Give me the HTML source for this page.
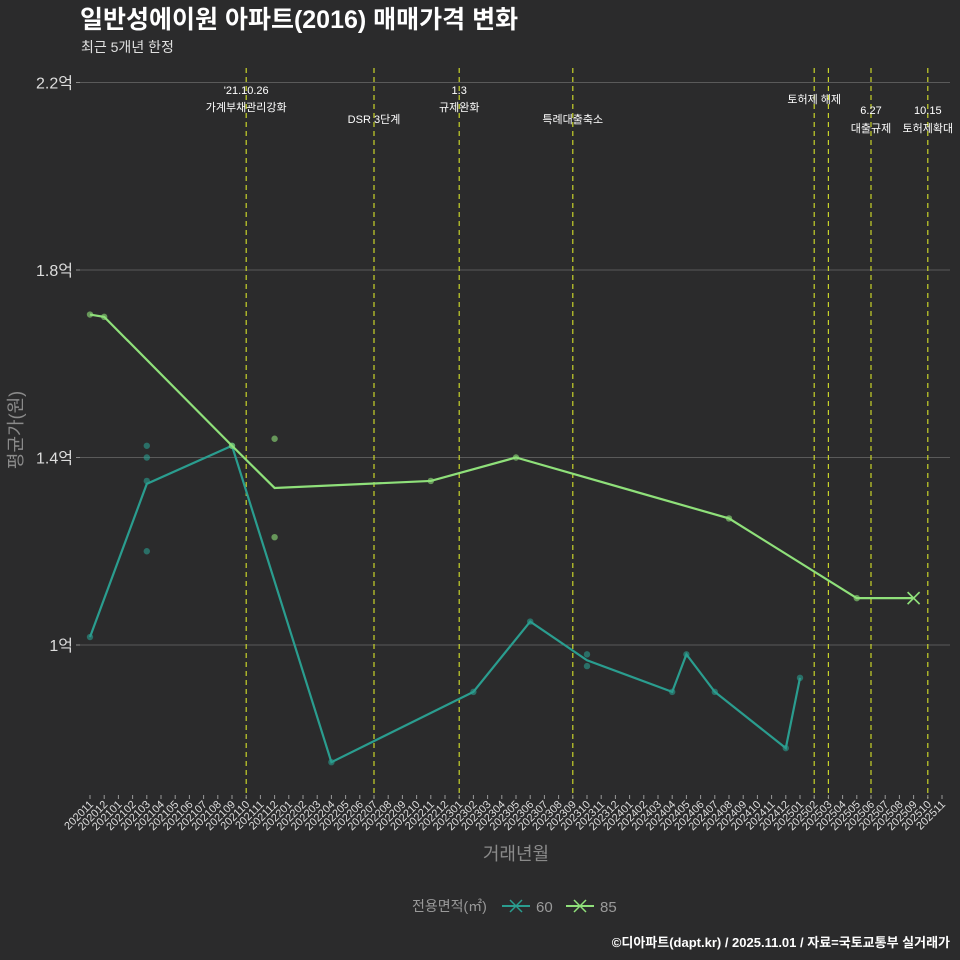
<!DOCTYPE html>
<html><head><meta charset="utf-8">
<style>
html,body{margin:0;padding:0;background:#2b2b2c;}
svg{display:block;font-family:"Liberation Sans","Noto Sans CJK KR",sans-serif;}
</style></head>
<body>
<svg id="chart" width="960" height="960" viewBox="0 0 960 960">
<rect x="0" y="0" width="960" height="960" fill="#2b2b2c"/>
<text x="80" y="28" fill="#ffffff" font-size="25" font-weight="bold">일반성에이원 아파트(2016) 매매가격 변화</text>
<text x="81" y="52" fill="#e0e0e0" font-size="14">최근 5개년 한정</text>
<g id="grid"></g><g id="vlines"></g><g id="series"></g><g id="xaxis"></g>
<text transform="translate(22,430) rotate(-90)" text-anchor="middle" fill="#8a8a8a" font-size="18">평균가(원)</text>
<text x="516" y="860" text-anchor="middle" fill="#8a8a8a" font-size="18">거래년월</text>
<g>
<text x="412" y="911" fill="#9a9a9a" font-size="14">전용면적(㎡)</text>
<g><line x1="502" y1="906" x2="530" y2="906" stroke="#2a9d8f" stroke-width="2"/><path d="M510 900 L522 912 M522 900 L510 912" stroke="#2a9d8f" stroke-width="1.5"/><text x="536" y="912" fill="#9a9a9a" font-size="15">60</text></g>
<g><line x1="566" y1="906" x2="594" y2="906" stroke="#8fe07a" stroke-width="2"/><path d="M574 900 L586 912 M586 900 L574 912" stroke="#8fe07a" stroke-width="1.5"/><text x="600" y="912" fill="#9a9a9a" font-size="15">85</text></g>
</g>
<text x="950" y="947" text-anchor="end" fill="#ffffff" font-size="13" font-weight="bold">©디아파트(dapt.kr) / 2025.11.01 / 자료=국토교통부 실거래가</text>
</svg>
<script>
const months = [];
for (let y = 2020, m = 11; months.length < 61; ) { months.push(String(y) + String(m).padStart(2, '0')); m++; if (m > 12) { m = 1; y++; } }
const yTicks = [1.0, 1.4, 1.8, 2.2];
const yTickLabels = ['1억', '1.4억', '1.8억', '2.2억'];
const s60Idx = [0, 4, 4, 4, 4, 10, 17, 27, 31, 35, 35, 41, 42, 44, 49, 50];
const s60Val = [1.017, 1.425, 1.40, 1.35, 1.20, 1.425, 0.75, 0.90, 1.05, 0.98, 0.955, 0.90, 0.98, 0.90, 0.78, 0.93];
const s85Idx = [0, 1, 10, 13, 13, 24, 30, 45, 54, 58];
const s85Val = [1.705, 1.70, 1.425, 1.44, 1.23, 1.35, 1.40, 1.27, 1.10, 1.10];
const eventIdx = [11, 20, 26, 34, 51, 52, 55, 59];
const eventLabels = [["'21.10.26", "가계부채관리강화"], ["", "DSR 3단계"], ["1.3", "규제완화"], ["", "특례대출축소"], ["토허제 해제", ""], ["", ""], ["6.27", "대출규제"], ["10.15", "토허제확대"]];
const eventLabelY = [[94, 111], [0, 123], [94, 111], [0, 123], [103, 0], [0, 0], [114, 132], [114, 132]];

const NS = 'http://www.w3.org/2000/svg';
const xS = i => 90 + i * (852 / 60);
const yS = v => 645 - (v - 1) * 468.75;
function mk(tag, attrs, parent, txt) { const e = document.createElementNS(NS, tag); for (const k in attrs) e.setAttribute(k, attrs[k]); if (txt !== undefined) e.textContent = txt; parent.appendChild(e); return e; }
const grid = document.getElementById('grid'), vl = document.getElementById('vlines'), se = document.getElementById('series'), xa = document.getElementById('xaxis');

yTicks.forEach((t, i) => {
  const l = mk('line', { x1: 80, x2: 950, y1: yS(t), y2: yS(t), stroke: '#5a5a5a', 'stroke-width': 1 }, grid);
  
  
  const tk = mk('line', { x1: 76, x2: 80, y1: yS(t), y2: yS(t), stroke: '#888' }, grid);
  
  
  const tx = mk('text', { x: 73, y: yS(t) + 6, 'text-anchor': 'end', fill: '#dddddd', 'font-size': 16 }, grid, yTickLabels[i]);
  
  
});

months.forEach((m, i) => {
  const x = xS(i);
  const tk = mk('line', { x1: x, x2: x, y1: 795, y2: 799, stroke: '#999' }, xa);
  
  
  const t = mk('text', { transform: `translate(${x + 4},${805}) rotate(-45)`, 'text-anchor': 'end', fill: '#dddddd', 'font-size': 11 }, xa, m);
  
  
});

eventIdx.forEach((ei, k) => {
  const x = xS(ei);
  const l = mk('line', { x1: x, x2: x, y1: 68, y2: 798, stroke: '#c8d42a', 'stroke-width': 1.2, 'stroke-dasharray': '5,4' }, vl);
  
  
  eventLabels[k].forEach((s, j) => {
    if (!s) return;
    const t = mk('text', { x: x, y: eventLabelY[k][j], 'text-anchor': 'middle', fill: '#ffffff', 'font-size': 11 }, vl, s);
    
    
  });
});

function means(idx, val) {
  const map = {};
  idx.forEach((i, k) => { (map[i] = map[i] || []).push(val[k]); });
  return Object.keys(map).map(Number).sort((a, b) => a - b).map(i => [i, map[i].reduce((a, b) => a + b, 0) / map[i].length]);
}
function drawSeries(idx, val, color, name, lastX) {
  idx.forEach((i, k) => {
    if (lastX && k === idx.length - 1) return;
    const c = mk('circle', { cx: xS(i), cy: yS(val[k]), r: 3.2, fill: color, 'fill-opacity': 0.6 }, se);
    
    
  });
  const pts = means(idx, val).map(p => xS(p[0]) + ',' + yS(p[1])).join(' ');
  const pl = mk('polyline', { points: pts, fill: 'none', stroke: color, 'stroke-width': 2.2 }, se);
  
  
  if (lastX) {
    const n = idx.length - 1, x = xS(idx[n]), y = yS(val[n]);
    const p = mk('path', { d: `M${x - 6} ${y - 6} L${x + 6} ${y + 6} M${x + 6} ${y - 6} L${x - 6} ${y + 6}`, stroke: color, 'stroke-width': 1.6 }, se);
    
    
  }
}
drawSeries(s60Idx, s60Val, '#2a9d8f', 'series-60', false);
drawSeries(s85Idx, s85Val, '#8fe07a', 'series-85', true);
</script>
</body></html>
